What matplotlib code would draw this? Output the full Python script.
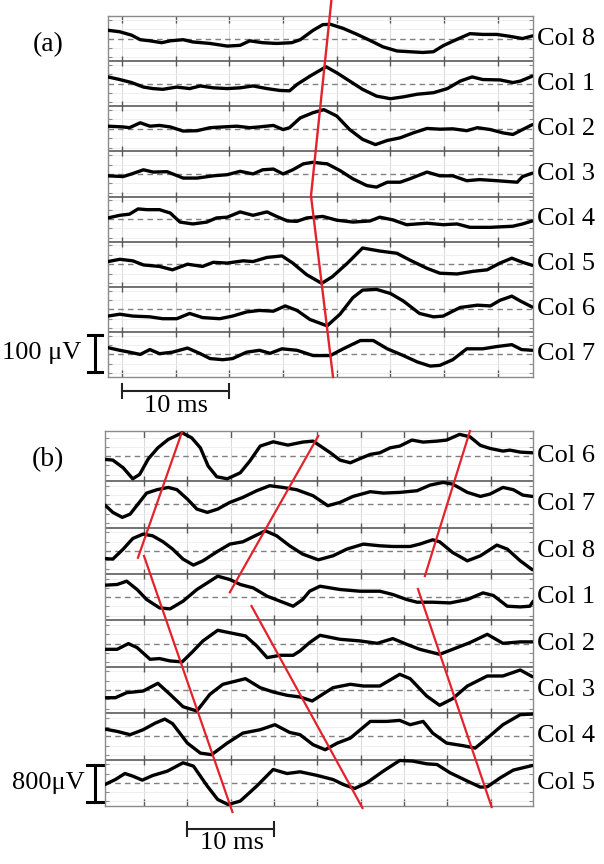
import matplotlib
matplotlib.use('Agg')
import matplotlib.pyplot as plt

plt.rcParams['font.family'] = ['Liberation Serif', 'DejaVu Serif']

# ---------------- Panel (a) data: time (ms), amplitude (uV) ----------------
a_labels = ['Col 8', 'Col 1', 'Col 2', 'Col 3', 'Col 4', 'Col 5', 'Col 6', 'Col 7']

a_col8_t = [-1.3, -0.2, 0.9, 1.7, 2.6, 3.7, 4.5, 5.7, 6.6, 8.2, 9.8, 11.0, 11.9, 13.1, 14.4, 15.8, 16.6, 17.8,
            18.7, 19.4, 20.6, 21.9, 23.1, 24.3, 25.6, 26.8, 28.0, 29.0, 29.9, 31.2, 32.4, 33.6, 34.9, 36.1, 37.3, 38.2]
a_col8_v = [22, 18, 9, -3, -6, -11, -6, -3, -9, -13, -20, -18, -6, -11, -13, -11, -3, 22,
            37, 38, 27, 11, -5, -22, -33, -35, -37, -35, -19, -2, 13, 11, 11, 6, 0, 7]

a_col1_t = [-1.3, -0.2, 0.9, 2.0, 2.9, 3.8, 5.1, 6.3, 7.3, 8.5, 9.8, 11.0, 12.2, 13.5, 14.7, 15.6, 16.3, 17.5,
            19.0, 20.0, 21.2, 22.4, 23.7, 25.0, 26.2, 27.5, 29.0, 30.3, 31.5, 32.6, 33.6, 35.2, 36.4, 37.1, 38.2]
a_col1_v = [18, 11, 3, -9, -13, -15, -9, -13, -6, -11, -13, -11, -6, -13, -18, -19, -2, 20,
            45, 29, 7, -15, -33, -40, -35, -28, -24, -13, 7, 18, 11, 10, 3, 7, 20]

a_col2_t = [-1.3, 0.1, 0.7, 1.7, 2.6, 3.5, 4.5, 5.7, 7.0, 8.2, 9.4, 10.7, 11.9, 12.8, 14.1, 15.0, 15.6, 16.6,
            17.8, 18.8, 20.0, 21.2, 22.4, 23.6, 24.7, 25.9, 27.1, 28.4, 29.6, 30.8, 32.1, 33.1, 34.3, 35.5, 36.4,
            37.3, 38.2]
a_col2_v = [7, 5, 3, 16, 7, 9, 5, -6, -5, 3, 5, 7, 3, 5, 9, -2, 3, 29,
            43, 51, 34, -2, -28, -42, -31, -24, -11, 1, -1, 0, -5, 3, -2, -11, -15,
            -2, 11]

a_col3_t = [-1.3, 0.1, 0.9, 2.0, 2.9, 4.2, 5.7, 7.0, 8.5, 9.8, 11.0, 12.2, 13.1, 14.1, 15.0, 15.9, 16.9, 17.8,
            18.7, 19.1, 20.3, 21.5, 22.8, 23.7, 24.7, 25.9, 26.8, 28.4, 29.6, 30.8, 32.1, 33.3, 34.9, 36.8, 37.3, 38.2]
a_col3_v = [-5, -7, 0, 11, 5, 6, -11, -11, -5, -2, 7, 0, 11, 13, 0, 11, 27, 31,
            28, 27, 9, -13, -31, -35, -22, -22, -13, 5, -5, -5, -18, -15, -18, -22, -7, 2]

a_col4_t = [-1.3, -0.2, 0.7, 1.5, 2.3, 3.5, 4.5, 5.4, 6.6, 7.9, 8.8, 9.8, 11.0, 12.2, 13.5, 14.4, 15.4, 16.3,
            17.2, 18.7, 20.0, 21.5, 23.1, 24.0, 25.2, 26.5, 28.4, 29.9, 31.2, 32.4, 34.3, 36.4, 37.3, 38.2]
a_col4_v = [3, 10, 13, 27, 25, 25, 16, -8, -13, -8, 3, 5, 19, 10, 19, 7, -5, -6,
            3, 7, -3, -8, -5, 5, -2, -15, -11, -15, -13, -22, -22, -19, -13, -5]

a_col5_t = [-1.3, -0.2, 1.0, 2.0, 3.5, 4.7, 6.1, 7.5, 8.5, 9.8, 11.3, 12.2, 13.5, 14.9, 15.9, 17.2, 18.6, 19.6,
            21.0, 22.4, 24.0, 25.6, 26.8, 28.4, 29.6, 31.2, 32.7, 34.0, 35.2, 36.3, 37.3, 38.2]
a_col5_v = [7, 13, 9, -2, -6, -15, 0, -6, 5, 3, 9, 7, 18, 22, 3, -28, -51, -33,
            3, 43, 35, 29, 11, -11, -24, -26, -19, -15, 3, 16, 5, -3]

a_col6_t = [-1.3, -0.2, 1.0, 2.6, 3.8, 5.1, 6.3, 7.5, 9.1, 10.3, 11.6, 12.8, 14.1, 15.2, 16.3, 17.5, 19.1, 20.3,
            21.5, 22.4, 23.7, 25.0, 26.2, 27.7, 29.0, 29.9, 31.5, 33.1, 34.3, 35.2, 36.3, 37.1, 38.2]
a_col6_v = [-18, -13, -18, -20, -25, -25, -11, -22, -25, -18, -7, -3, -5, 9, -3, -27, -44, -13,
            31, 51, 53, 42, 22, -11, -20, -18, 5, 11, 9, 24, 35, 22, 6]

a_col7_t = [-1.3, -0.2, 0.7, 1.7, 2.6, 3.5, 4.7, 6.1, 7.3, 8.2, 9.4, 10.3, 11.6, 12.8, 13.8, 14.9, 16.3, 17.8,
            19.4, 20.6, 22.2, 23.4, 24.7, 26.2, 27.5, 28.7, 29.6, 30.8, 32.1, 33.6, 34.9, 36.3, 37.2, 38.2]
a_col7_v = [18, 11, 6, 0, 13, 2, 6, 17, 2, -11, -14, -11, 6, 11, 3, 15, 11, -3,
            -3, 15, 37, 37, 15, -3, -20, -31, -29, -14, 15, 15, 21, 26, 13, 11]

a_times = [a_col8_t, a_col1_t, a_col2_t, a_col3_t, a_col4_t, a_col5_t, a_col6_t, a_col7_t]
a_values = [a_col8_v, a_col1_v, a_col2_v, a_col3_v, a_col4_v, a_col5_v, a_col6_v, a_col7_v]

# propagation line (a): time (ms) and stacked position (uV, row spacing 120)
a_red_t = [19.5, 17.6, 19.65]
a_red_y = [1002, 482, 0]

# ---------------- Panel (b) data ----------------
b_labels = ['Col 6', 'Col 7', 'Col 8', 'Col 1', 'Col 2', 'Col 3', 'Col 4', 'Col 5']

b_col6_t = [-4.5, -3.6, -2.4, -1.3, -0.5, 0.5, 1.6, 2.8, 4.4, 5.5, 6.5, 7.4, 8.4, 9.6, 11.1, 12.2, 13.4, 14.9,
            16.6, 18.3, 19.5, 21.5, 22.6, 23.8, 24.7, 26.1, 27.2, 28.4, 29.5, 30.9, 32.2, 33.8, 34.9, 36.4, 37.6,
            38.8, 39.9, 41.4, 42.2, 43.4, 44.8]
b_col6_v = [-71, -86, -252, -489, -394, -58, 179, 360, 502, 394, 179, -216, -446, -489, -360, -108, 216, 308,
            237, 302, 323, 71, -86, -144, -71, 37, 71, 179, 216, 345, 302, 323, 345, 468, 416,
            231, 166, 108, 129, 86, 71]

b_col7_t = [-4.5, -3.6, -2.5, -1.6, -0.7, 0.3, 1.5, 2.8, 3.8, 5.0, 6.1, 7.3, 8.5, 9.9, 11.4, 13.0, 14.5, 16.0,
            17.6, 19.5, 21.2, 22.6, 24.1, 26.1, 27.6, 29.5, 31.5, 33.0, 34.5, 35.6, 37.3, 38.8, 39.9, 41.4, 42.6,
            43.7, 44.8]
b_col7_v = [-15, -172, -280, -209, 6, 244, 317, 366, 317, 114, -101, -172, -101, 43, 151, 295, 403, 366,
            317, 187, -28, 43, 172, 274, 244, 259, 295, 416, 474, 437, 259, 172, 222, 366, 317,
            200, 172]

b_col8_t = [-4.5, -3.6, -2.4, -1.3, -0.1, 1.0, 2.2, 3.3, 4.5, 5.7, 6.8, 8.4, 9.9, 11.4, 12.8, 14.0, 15.3, 16.8,
            18.3, 20.1, 21.8, 23.4, 25.3, 27.2, 28.7, 30.7, 31.8, 33.3, 34.1, 35.6, 37.3, 38.8, 40.7, 41.9, 43.4, 44.8]
b_col8_v = [-166, -179, 37, 265, 360, 323, 194, 37, -179, -308, -216, -22, 144, 194, 323, 431, 323, 108,
            -71, -194, -108, 37, 144, 108, 93, 93, 144, 237, 194, -37, -216, -108, 123, 37, -216, -409]

b_col1_t = [-4.5, -3.1, -2.0, -0.8, 0.3, 1.8, 3.0, 4.5, 6.1, 7.6, 8.5, 9.9, 11.1, 12.6, 14.2, 15.7, 17.2, 18.3,
            19.1, 20.3, 22.6, 24.9, 27.2, 28.7, 30.3, 31.5, 33.3, 35.3, 37.3, 39.1, 40.3, 41.9, 43.4, 44.5, 44.9]
b_col1_v = [259, 274, 345, 166, -50, -231, -252, -86, 166, 345, 453, 381, 274, 200, 22, -86, -194, -50,
            129, 237, 166, 129, 129, 58, -50, -108, -108, -123, -50, 93, 37, -194, -209, -194, -86]

b_col2_t = [-4.5, -3.1, -1.8, -0.8, 0.7, 1.8, 3.0, 4.4, 5.5, 6.8, 8.5, 10.2, 11.7, 13.0, 14.2, 15.7, 17.2, 18.0,
            19.1, 20.3, 22.6, 24.9, 26.9, 28.7, 30.3, 31.8, 34.1, 35.6, 37.6, 39.6, 41.4, 43.4, 44.8]
b_col2_v = [-123, -123, 0, -86, -338, -323, -373, -394, -194, 58, 287, 222, 166, -50, -302, -252, -252, -157,
            22, 179, 93, 58, 6, 108, -15, -123, -231, -123, 22, 200, 6, 37, 37]

b_col3_t = [-4.5, -3.3, -2.0, -0.1, 1.6, 3.0, 4.5, 6.1, 7.6, 9.1, 11.7, 13.4, 14.9, 16.5, 18.0, 19.4, 20.6, 21.8,
            23.8, 25.3, 27.2, 29.5, 30.7, 32.6, 34.1, 35.6, 37.3, 39.6, 41.4, 43.4, 44.8]
b_col3_v = [-166, -166, -58, -22, 144, -93, -360, -453, -93, 123, 244, 50, -43, -114, -151, -237, -93, 50,
            123, 86, 86, 338, 244, -129, -330, -187, 86, 302, 302, 431, 287]

b_col4_t = [-4.5, -3.1, -1.6, -0.1, 1.3, 2.4, 3.3, 5.0, 6.5, 7.8, 9.6, 11.4, 13.4, 15.1, 16.8, 18.0, 19.5, 20.9,
            22.3, 23.8, 26.1, 28.0, 29.5, 30.7, 32.2, 33.3, 34.9, 36.8, 38.2, 39.6, 41.4, 43.4, 44.8]
b_col4_v = [157, 108, 37, 144, 287, 373, 274, -144, -360, -394, -144, 71, 144, 252, 86, 37, -179, -287,
            -144, -37, 323, 323, 345, 252, 323, 71, -144, -200, -252, -37, 252, 468, 481]

b_col5_t = [-4.5, -3.3, -2.2, -1.3, -0.2, 1.0, 2.7, 4.5, 5.7, 7.3, 8.5, 9.7, 11.1, 13.0, 14.9, 16.5, 18.0, 19.9,
            21.8, 23.0, 24.3, 25.7, 27.6, 29.5, 31.0, 32.6, 33.8, 35.3, 37.3, 38.8, 39.6, 41.1, 42.6, 44.8]
b_col5_v = [-37, 71, 200, 144, 58, 157, 252, 431, 360, -71, -360, -468, -394, -71, 287, 200, 237, 162,
            71, -37, -123, 0, 252, 481, 468, 409, 394, 216, 37, -93, -86, 108, 274, 373]

b_times = [b_col6_t, b_col7_t, b_col8_t, b_col1_t, b_col2_t, b_col3_t, b_col4_t, b_col5_t]
b_values = [b_col6_v, b_col7_v, b_col8_v, b_col1_v, b_col2_v, b_col3_v, b_col4_v, b_col5_v]

# propagation lines (b): [t0, t1], [y0, y1] in stacked coordinates (row spacing 1000 uV)
b_red_t = [[-0.7, 4.35], [0.0, 10.2], [9.9, 20.1], [12.4, 25.2], [32.4, 37.6], [31.6, 40.1]]
b_red_y = [[5351, 8045], [5388, -130], [4606, 7974], [4310, -43], [4957, 8082], [4677, -22]]

# ---------------- drawing ----------------
W, H = 604, 864
fig = plt.figure(figsize=(W / 100, H / 100), dpi=100)

RED = '#e3232b'
GRID = '#dcdcdc'
FAINT = '#ededed'
FRAME = '#8a8a8a'
BOUND = '#5a5a5a'
FS = 19


def px_rect(l, t, r, b):
    return [l / W, 1 - b / H, (r - l) / W, (b - t) / H]


def panel(rect, times, values, labels, spacing, top_extra, xlim, grid_x, levels):
    ax = fig.add_axes(rect)
    n = len(labels)
    ytop = n * spacing + top_extra
    ax.set_xlim(*xlim)
    ax.set_ylim(0, ytop)
    h_px = rect[3] * H
    d5 = 5 * ytop / h_px  # 5 px in data units
    offsets = []
    for i in range(n):
        k = n - 1 - i
        if i == 0:
            off = k * spacing + (spacing + top_extra) / 2
        else:
            off = k * spacing + spacing / 2
        offsets.append(off)
    yt = []
    for off in offsets:
        for lv in levels:
            yt.append(off + lv)
            yt.append(off - lv)
    ax.set_yticks(sorted(yt))
    ax.set_xticks(grid_x)
    ax.tick_params(axis='y', direction='in', length=3, width=0.8, color=FRAME,
                   left=True, right=True, labelleft=False)
    ax.tick_params(axis='x', direction='in', length=5, width=1.0, color=BOUND,
                   top=True, bottom=True, labelbottom=False)
    ax.grid(axis='y', color=FAINT, lw=0.6)
    ax.grid(axis='x', color=GRID, lw=0.8)
    for s in ax.spines.values():
        s.set_color(FRAME)
        s.set_linewidth(1.0)
    for k in range(1, n):
        y = k * spacing
        ax.axhline(y, color=BOUND, lw=1.2, zorder=2)
        ax.vlines(grid_x, y - d5, y + d5, color=BOUND, lw=1.0, zorder=2)
    for i in range(n):
        off = offsets[i]
        ax.axhline(off, color='#808080', lw=1.0, ls=(0, (4, 3)), zorder=2)
        ax.plot(times[i], [off + v for v in values[i]], color='black', lw=2.4,
                solid_joinstyle='round', solid_capstyle='round', zorder=3)
        ax.text(1.009, off, labels[i], transform=ax.get_yaxis_transform(),
                ha='left', va='center', fontsize=FS)
    return ax, offsets


# Panel (a)
ax_a, off_a = panel(px_rect(108, 16, 533, 377), a_times, a_values, a_labels,
                    120, 0, (-1.3, 38.27), [0, 5, 10, 15, 20, 25, 30, 35], [25, 50])
ax_a.plot(a_red_t, a_red_y, color=RED, lw=1.7, clip_on=False, zorder=5)

# scale bars (a): 100 uV, 10 ms
ax_a.plot([-2.51, -2.51], [12, 112], color='black', lw=2.2, clip_on=False)
ax_a.plot([-3.17, -1.86], [12, 12], color='black', lw=2.2, clip_on=False)
ax_a.plot([-3.17, -1.86], [112, 112], color='black', lw=2.2, clip_on=False)
ax_a.text(-3.75, 64, '100 μV', ha='right', va='center', fontsize=FS, clip_on=False)
ax_a.plot([0, 10], [-37, -37], color='#222222', lw=1.5, clip_on=False)
ax_a.plot([0, 0], [-56, -18], color='#222222', lw=1.5, clip_on=False)
ax_a.plot([10, 10], [-56, -18], color='#222222', lw=1.5, clip_on=False)
ax_a.text(5, -78, '10 ms', ha='center', va='center', fontsize=FS, clip_on=False)

# Panel (b)
ax_b, off_b = panel(px_rect(105, 431, 533, 806), b_times, b_values, b_labels,
                    1000, 82, (-4.5, 44.87), [0, 5, 10, 15, 20, 25, 30, 35, 40], [200, 400])
for tt, yy in zip(b_red_t, b_red_y):
    ax_b.plot(tt, yy, color=RED, lw=1.6, clip_on=False, zorder=5)

ax_b.plot([-5.65, -5.65], [86, 886], color='black', lw=2.2, clip_on=False)
ax_b.plot([-6.57, -4.73], [86, 86], color='black', lw=2.2, clip_on=False)
ax_b.plot([-6.57, -4.73], [886, 886], color='black', lw=2.2, clip_on=False)
ax_b.text(-6.8, 496, '800μV', ha='right', va='center', fontsize=FS, clip_on=False)
ax_b.plot([5, 15], [-496, -496], color='#222222', lw=1.5, clip_on=False)
ax_b.plot([5, 5], [-650, -340], color='#222222', lw=1.5, clip_on=False)
ax_b.plot([15, 15], [-650, -340], color='#222222', lw=1.5, clip_on=False)
ax_b.text(10.15, -800, '10 ms', ha='center', va='center', fontsize=FS, clip_on=False)

fig.text(48 / W, 1 - 45 / H, '(a)', ha='center', va='center', fontsize=FS + 1)
fig.text(48 / W, 1 - 460 / H, '(b)', ha='center', va='center', fontsize=FS + 1)

fig.savefig('out.png', dpi=100)
